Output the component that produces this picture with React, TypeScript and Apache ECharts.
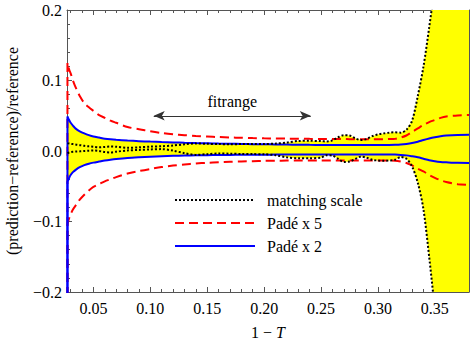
import React, { useEffect, useRef } from 'react';
import * as echarts from 'echarts';

// 1 - T values shared by every curve
const xs = [
  0.0272, 0.028, 0.029, 0.03, 0.032, 0.035, 0.038, 0.042, 0.046, 0.05,
  0.055, 0.06, 0.065, 0.07, 0.08, 0.09, 0.1, 0.11, 0.12, 0.13,
  0.14, 0.15, 0.16, 0.17, 0.18, 0.19, 0.2, 0.21, 0.22, 0.23,
  0.24, 0.25, 0.255, 0.26, 0.265, 0.27, 0.275, 0.28, 0.285, 0.29,
  0.295, 0.3, 0.305, 0.31, 0.315, 0.32, 0.325, 0.33, 0.335, 0.34,
  0.345, 0.35, 0.355, 0.36, 0.37, 0.38,
];

// Padé x 2 (blue)
const padeX2Upper = [
  0.049, 0.046, 0.043, 0.04, 0.036, 0.031, 0.028, 0.025, 0.0225, 0.0205,
  0.019, 0.0175, 0.0165, 0.0158, 0.0148, 0.014, 0.0133, 0.0127, 0.0122, 0.0117,
  0.0113, 0.011, 0.0106, 0.0103, 0.01, 0.0097, 0.0095, 0.0093, 0.0091, 0.0089,
  0.0087, 0.0086, 0.0085, 0.0085, 0.0084, 0.0084, 0.0084, 0.0084, 0.0084, 0.0084,
  0.0084, 0.0084, 0.0084, 0.0085, 0.0087, 0.0091, 0.0099, 0.0112, 0.0132, 0.0156,
  0.0178, 0.0196, 0.021, 0.0219, 0.0228, 0.023,
];
const padeX2Lower = [
  -0.044, -0.041, -0.037, -0.034, -0.03, -0.026, -0.023, -0.02, -0.018, -0.0165,
  -0.015, -0.0135, -0.0123, -0.0113, -0.0098, -0.0088, -0.008, -0.0074, -0.0069, -0.0065,
  -0.0062, -0.0059, -0.0057, -0.0055, -0.0054, -0.0053, -0.0052, -0.0051, -0.005, -0.005,
  -0.0049, -0.0049, -0.0049, -0.0048, -0.0048, -0.0048, -0.0048, -0.0048, -0.0048, -0.0048,
  -0.0048, -0.0048, -0.0048, -0.0049, -0.0051, -0.0055, -0.0062, -0.0075, -0.009, -0.011,
  -0.013, -0.0145, -0.0155, -0.016, -0.0168, -0.017,
];

// Padé x 5 (red)
const padeX5Upper = [
  0.125, 0.119, 0.114, 0.11, 0.1, 0.088, 0.078, 0.068, 0.062, 0.057,
  0.051, 0.047, 0.043, 0.04, 0.034, 0.031, 0.028, 0.0255, 0.0238, 0.0225,
  0.0213, 0.0205, 0.0198, 0.0192, 0.0187, 0.0183, 0.018, 0.0178, 0.0176, 0.0174,
  0.0172, 0.0171, 0.017, 0.017, 0.0169, 0.0169, 0.0168, 0.0168, 0.0168, 0.0168,
  0.0168, 0.0168, 0.0168, 0.0169, 0.0172, 0.019, 0.022, 0.027, 0.032, 0.037,
  0.041, 0.044, 0.047, 0.049, 0.0505, 0.051,
];
const padeX5Lower = [
  -0.105, -0.099, -0.094, -0.09, -0.083, -0.076, -0.069, -0.062, -0.056, -0.051,
  -0.047, -0.043, -0.04, -0.037, -0.032, -0.0285, -0.0255, -0.0228, -0.0207, -0.019,
  -0.0177, -0.0167, -0.016, -0.0153, -0.0148, -0.0144, -0.014, -0.0138, -0.0136, -0.0135,
  -0.0134, -0.0134, -0.0134, -0.0134, -0.0134, -0.0134, -0.0134, -0.0134, -0.0134, -0.0134,
  -0.0134, -0.0134, -0.0134, -0.0134, -0.0137, -0.015, -0.017, -0.0205, -0.025, -0.029,
  -0.034, -0.038, -0.0415, -0.044, -0.047, -0.048,
];

// matching scale variation (black dotted)
const matchingUpper = [
  0.011, 0.0108, 0.0105, 0.0102, 0.0098, 0.009, 0.0083, 0.0074, 0.0066, 0.006,
  0.0052, 0.0058, 0.0064, 0.006, 0.0045, 0.0052, 0.0062, 0.0068, 0.0078, 0.0095,
  0.0108, 0.0102, 0.0098, 0.0097, 0.0098, 0.01, 0.01, 0.0105, 0.012, 0.0142,
  0.0145, 0.014, 0.0135, 0.015, 0.0195, 0.0225, 0.022, 0.018, 0.0155, 0.017,
  0.021, 0.0235, 0.025, 0.026, 0.0265, 0.026, 0.03, 0.043, 0.078, 0.12,
  0.175, 0.235, 0.3, 0.37, 0.52, 0.7,
];
const matchingLower = [
  -0.003, -0.0025, -0.002, -0.0015, -0.001, -0.0007, -0.0005, 0.0, 0.0005, 0.0008,
  0.0, -0.0015, -0.002, -0.001, 0.0008, 0.0015, 0.0022, 0.0027, 0.0005, -0.003,
  -0.0055, -0.0045, -0.0035, -0.0038, -0.0042, -0.0044, -0.0046, -0.006, -0.009, -0.0102,
  -0.0102, -0.0095, -0.006, -0.0065, -0.011, -0.0155, -0.015, -0.0115, -0.008, -0.0095,
  -0.0125, -0.0135, -0.014, -0.0135, -0.0125, -0.0085, -0.011, -0.022, -0.045, -0.083,
  -0.15, -0.225, -0.3, -0.37, -0.52, -0.7,
];

// the Padé curves diverge downward at the first point (left edge)
const divergenceValue = -1;

// fit range annotation
const fitRange = [0.103, 0.241];
const fitRangeY = 0.05;
const fitRangeLabel = 'fitrange';

const legendNames = ['matching scale', 'Padé x 5', 'Padé x 2'];

const xMin = 0.0268;
const xMax = 0.38;
const yMin = -0.2;
const yMax = 0.2;

const FONT = '"Liberation Serif", "Times New Roman", serif';

export default function App() {
  const ref = useRef<HTMLDivElement>(null);

  useEffect(() => {
    document.body.style.margin = '0';
    const chart = echarts.init(ref.current!, null, { renderer: 'svg' });

    const withDivergence = (arr: number[]) => [
      [xs[0], divergenceValue],
      ...xs.map((x, i) => [x, arr[i]]),
    ];
    const pairs = (arr: number[]) => xs.map((x, i) => [x, arr[i]]);

    const bandLow = xs.map((_, i) => Math.min(padeX2Lower[i], matchingLower[i]));
    const bandHigh = xs.map((_, i) => Math.max(padeX2Upper[i], matchingUpper[i]));

    const frameColor = '#555';
    const tickCommon = {
      axisLine: { show: true, onZero: false, lineStyle: { color: frameColor, width: 1 } },
      axisTick: { show: true, inside: true, length: 5, lineStyle: { color: frameColor } },
      minorTick: { show: true, splitNumber: 5, length: 3, lineStyle: { color: frameColor } },
      splitLine: { show: false },
      minorSplitLine: { show: false },
    };

    const xFmt = (v: number) =>
      Math.abs(v / 0.05 - Math.round(v / 0.05)) < 1e-6 ? v.toFixed(2) : '';
    const yFmt = (v: number) =>
      (v < -1e-9 ? '\u2212' : '') + Math.abs(v).toFixed(1);

    const xAxisBase = {
      type: 'value',
      min: xMin,
      max: xMax,
      splitNumber: 7,
      minInterval: 0.05,
      maxInterval: 0.05,
      ...tickCommon,
    };
    const yAxisBase = {
      type: 'value',
      min: yMin,
      max: yMax,
      interval: 0.1,
      ...tickCommon,
    };

    const lineCommon = {
      type: 'line',
      showSymbol: false,
      symbol: 'none',
      smooth: 0.3,
      clip: true,
      silent: true,
      z: 3,
    };

    const option: any = {
      animation: false,
      textStyle: { fontFamily: FONT },
      grid: { left: 67, right: 1, top: 10, bottom: 51, containLabel: false, outerBoundsMode: 'none' },
      legend: {
        data: legendNames,
        orient: 'vertical',
        left: 174,
        top: 192,
        padding: 0,
        itemWidth: 80,
        itemHeight: 14,
        itemGap: 7,
        selectedMode: false,
        itemStyle: { opacity: 0 },
        textStyle: { fontFamily: FONT, fontSize: 16, color: '#000', padding: [0, 0, 0, 7] },
      },
      xAxis: [
        {
          ...xAxisBase,
          position: 'bottom',
          name: '1 \u2212 {i|T}',
          nameLocation: 'middle',
          nameGap: 32,
          nameTextStyle: {
            fontFamily: FONT,
            fontSize: 16,
            color: '#000',
            rich: { i: { fontStyle: 'italic', fontFamily: FONT, fontSize: 16, color: '#000' } },
          },
          axisLabel: { show: true, formatter: xFmt, margin: 8, fontFamily: FONT, fontSize: 16, color: '#000' },
        },
        {
          ...xAxisBase,
          position: 'top',
          axisLabel: { show: false },
        },
      ],
      yAxis: [
        {
          ...yAxisBase,
          position: 'left',
          name: '(prediction\u2212reference)/reference',
          nameLocation: 'middle',
          nameGap: 47,
          nameTextStyle: { fontFamily: FONT, fontSize: 16, color: '#000' },
          axisLabel: { show: true, formatter: yFmt, margin: 5, fontFamily: FONT, fontSize: 16, color: '#000' },
        },
        {
          ...yAxisBase,
          position: 'right',
          axisLabel: { show: false },
        },
      ],
      series: [
        {
          type: 'custom',
          name: 'band',
          silent: true,
          clip: true,
          z: 1,
          data: [[xs[0], bandLow[0]]],
          encode: { x: 0, y: 1 },
          renderItem: (_params: any, api: any) => {
            const top = xs.map((x, i) => api.coord([x, bandHigh[i]]));
            const bottom = xs.map((x, i) => api.coord([x, bandLow[i]])).reverse();
            return {
              type: 'polygon',
              shape: { points: [...top, ...bottom] },
              style: { fill: '#ffff00', stroke: null, lineWidth: 0 },
            };
          },
        },
        {
          ...lineCommon,
          name: 'Padé x 5',
          data: withDivergence(padeX5Upper),
          lineStyle: { color: '#ff0000', width: 2, type: [9, 5] },
          itemStyle: { color: '#ff0000' },
        },
        {
          ...lineCommon,
          name: 'Padé x 5',
          data: withDivergence(padeX5Lower),
          lineStyle: { color: '#ff0000', width: 2, type: [9, 5] },
          itemStyle: { color: '#ff0000' },
        },
        {
          ...lineCommon,
          name: 'Padé x 2',
          data: withDivergence(padeX2Upper),
          lineStyle: { color: '#0000ff', width: 2, type: 'solid' },
          itemStyle: { color: '#0000ff' },
        },
        {
          ...lineCommon,
          name: 'Padé x 2',
          data: withDivergence(padeX2Lower),
          lineStyle: { color: '#0000ff', width: 2, type: 'solid' },
          itemStyle: { color: '#0000ff' },
        },
        {
          ...lineCommon,
          name: 'matching scale',
          data: pairs(matchingUpper),
          lineStyle: { color: '#000', width: 2, type: 'dotted' },
          itemStyle: { color: '#000' },
          markLine: {
            silent: true,
            symbol: ['arrow', 'arrow'],
            symbolSize: [7, 11],
            lineStyle: { color: '#333', width: 1, type: 'solid' },
            label: {
              show: true,
              position: 'insideMiddleTop',
              distance: 6,
              formatter: fitRangeLabel,
              fontFamily: FONT,
              fontSize: 16,
              color: '#000',
            },
            data: [
              [
                { coord: [fitRange[0], fitRangeY] },
                { coord: [fitRange[1], fitRangeY] },
              ],
            ],
          },
        },
        {
          ...lineCommon,
          name: 'matching scale',
          data: pairs(matchingLower),
          lineStyle: { color: '#000', width: 2, type: 'dotted' },
          itemStyle: { color: '#000' },
        },
      ],
    };

    chart.setOption(option);
    return () => chart.dispose();
  }, []);

  return <div ref={ref} style={{ width: 470, height: 343 }} />;
}
